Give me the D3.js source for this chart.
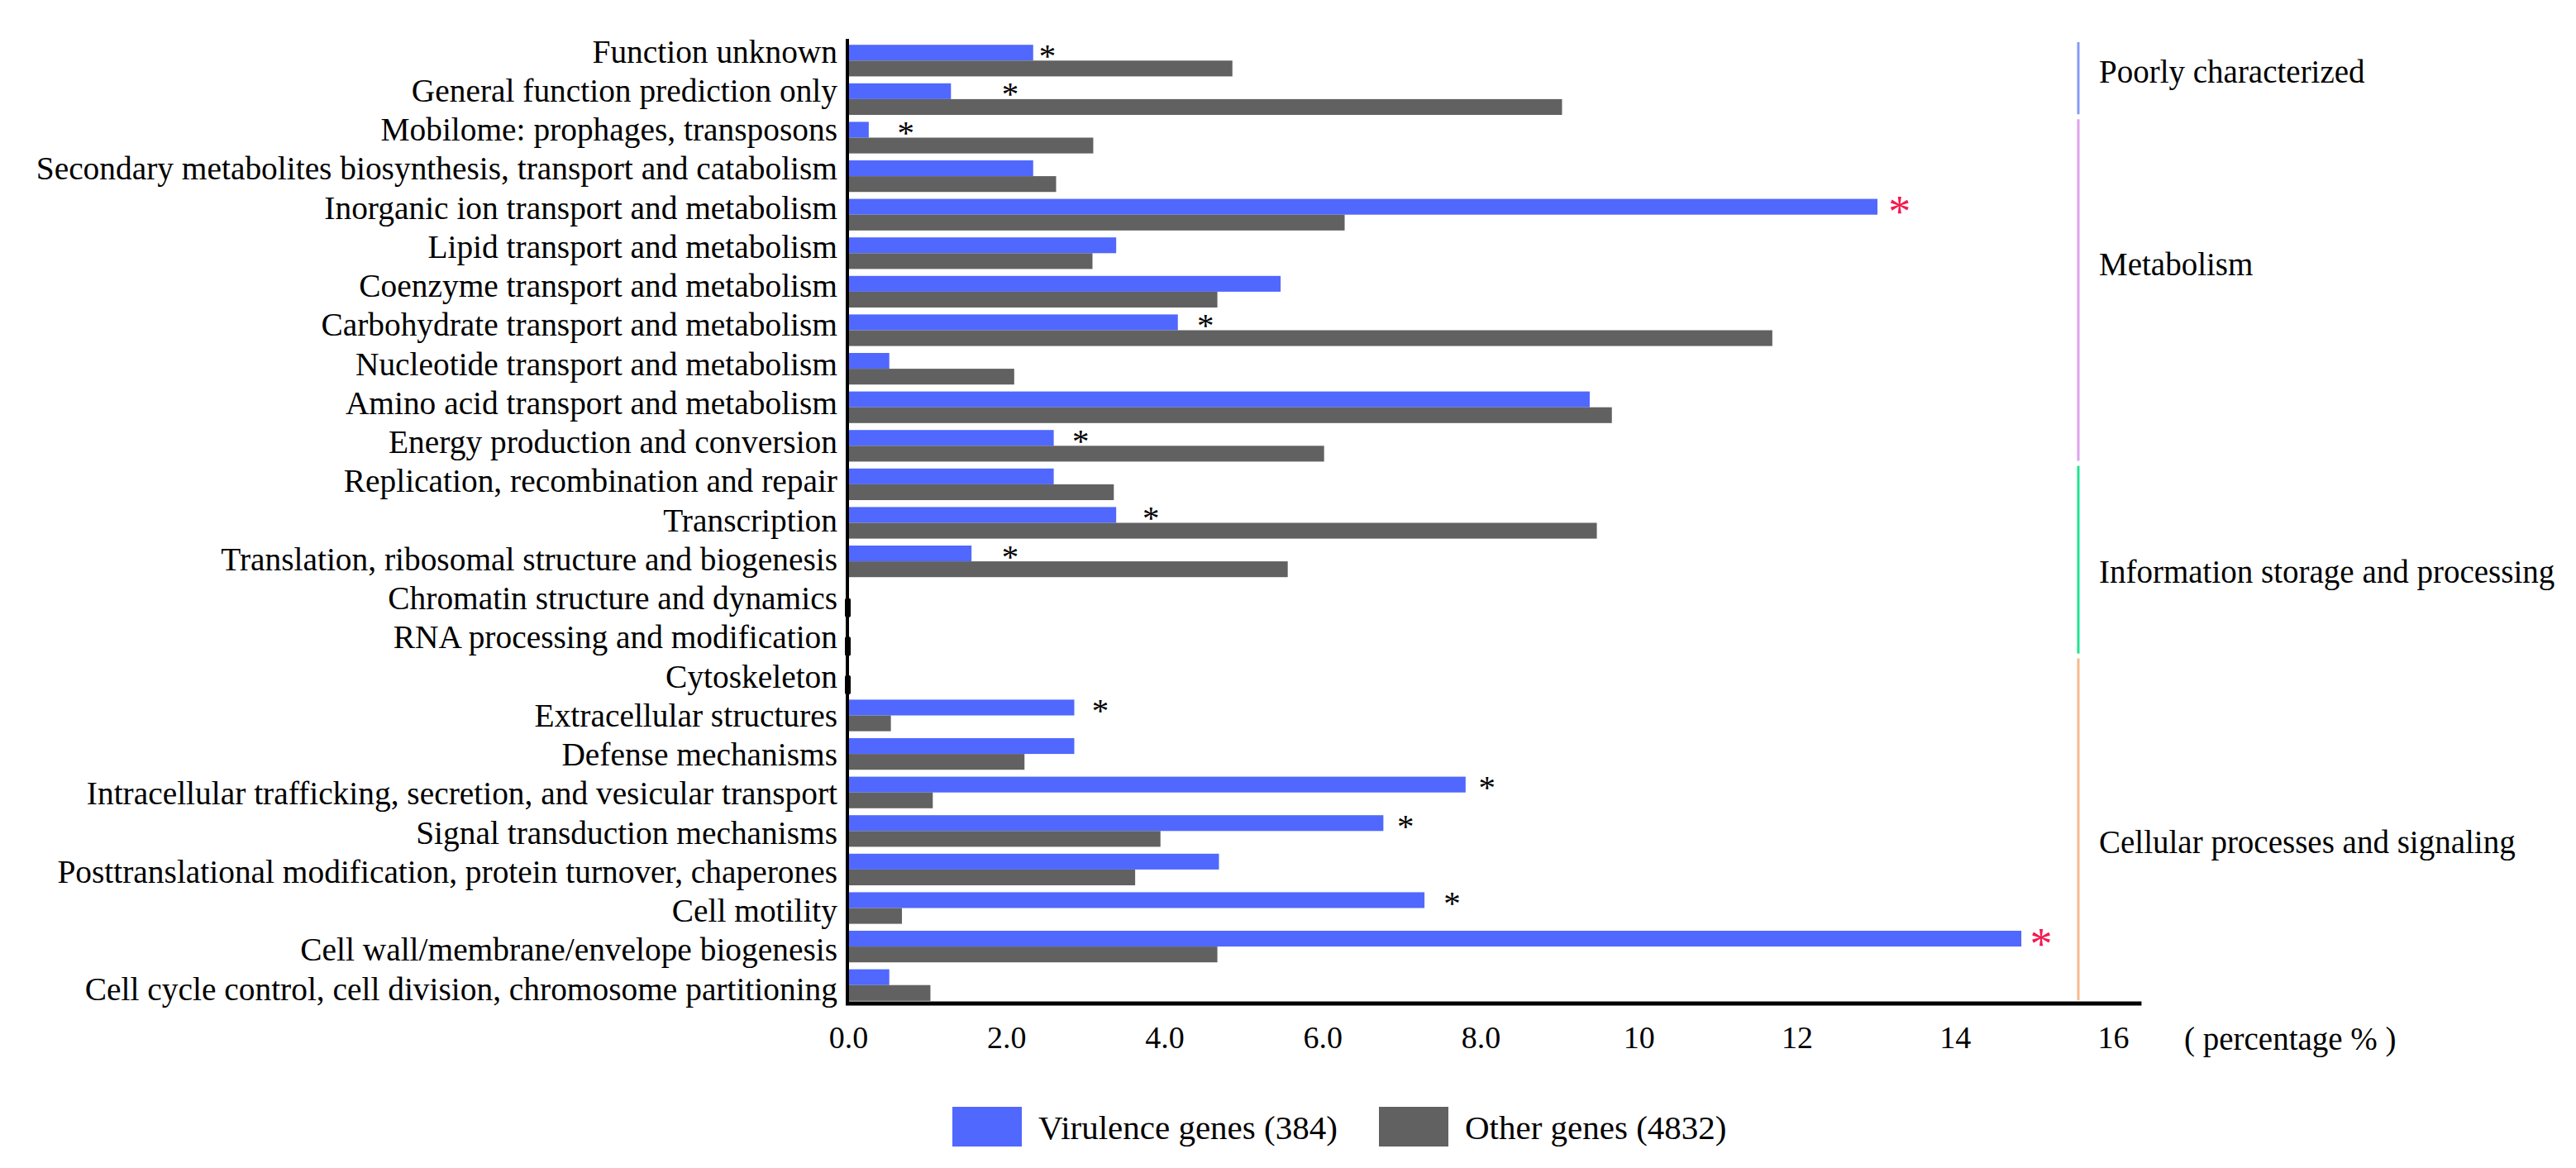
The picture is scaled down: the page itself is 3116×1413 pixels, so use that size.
<!DOCTYPE html>
<html>
<head>
<meta charset="utf-8">
<script src="https://cdn.jsdelivr.net/npm/d3@7"></script>
<style>
  body { margin: 0; background: #fff; }
  #chart, #chart text { font-family: "Liberation Serif", Tinos, "Times New Roman", Times, "DejaVu Serif", serif; }
  #chart text { fill: #000; }
</style>
</head>
<body>
<svg id="chart" width="3116" height="1413" font-family="Liberation Serif"></svg>
<script>
// COG categories, top to bottom
var categories = [
  "Function unknown",
  "General function prediction only",
  "Mobilome: prophages, transposons",
  "Secondary metabolites biosynthesis, transport and catabolism",
  "Inorganic ion transport and metabolism",
  "Lipid transport and metabolism",
  "Coenzyme transport and metabolism",
  "Carbohydrate transport and metabolism",
  "Nucleotide transport and metabolism",
  "Amino acid transport and metabolism",
  "Energy production and conversion",
  "Replication, recombination and repair",
  "Transcription",
  "Translation, ribosomal structure and biogenesis",
  "Chromatin structure and dynamics",
  "RNA processing and modification",
  "Cytoskeleton",
  "Extracellular structures",
  "Defense mechanisms",
  "Intracellular trafficking, secretion, and vesicular transport",
  "Signal transduction mechanisms",
  "Posttranslational modification, protein turnover, chaperones",
  "Cell motility",
  "Cell wall/membrane/envelope biogenesis",
  "Cell cycle control, cell division, chromosome partitioning"
];

// percentages
var virulence = [2.34, 1.30, 0.26, 2.34, 13.02, 3.39, 5.47, 4.17, 0.52, 9.38, 2.60, 2.60, 3.39, 1.56,
                 0, 0, 0, 2.86, 2.86, 7.81, 6.77, 4.69, 7.29, 14.84, 0.52];
var others    = [4.86, 9.03, 3.10, 2.63, 6.28, 3.09, 4.67, 11.69, 2.10, 9.66, 6.02, 3.36, 9.47, 5.56,
                 0, 0, 0, 0.54, 2.23, 1.07, 3.95, 3.63, 0.68, 4.67, 1.04];

// significance: 0 none, 1 black star, 2 red star; starAt = where the star sits (in %)
var sigLevel = [1, 1, 1, 0, 2, 0, 0, 1, 0, 0, 1, 0, 1, 1, 0, 0, 0, 1, 0, 1, 1, 0, 1, 2, 0];
var starAt   = [2.52, 2.05, 0.73, null, 13.30, null, null, 4.52, null, null, 2.94, null, 3.83, 2.05,
                null, null, null, 3.19, null, 8.08, 7.05, null, 7.64, 15.09, null];

var tickValues = [0, 2, 4, 6, 8, 10, 12, 14, 16];
var tickLabels = ["0.0", "2.0", "4.0", "6.0", "8.0", "10", "12", "14", "16"];

var groupNames = ["Poorly characterized", "Metabolism", "Information storage and processing", "Cellular processes and signaling"];
var groupFirst = [0, 2, 11, 16];
var groupLast  = [1, 10, 15, 24];
var groupLabelRow = [1, 6, 14, 21];
var groupColors = ["#889bf4", "#e0a2ee", "#1ee48f", "#f7b98a"];

var seriesNames = ["Virulence genes (384)", "Other genes (4832)"];
var seriesColors = ["#5068fe", "#616161"];

var serif = "'Liberation Serif', Tinos, 'Times New Roman', Times, 'DejaVu Serif', serif";

var svg = d3.select("#chart");

var x = d3.scaleLinear().domain([0, 16]).range([1026, 2556]);
var y = d3.scaleBand().domain(d3.range(categories.length)).range([50, 1215])
    .paddingInner(0.18).paddingOuter(0.09);
var sub = d3.scaleBand().domain([0, 1]).range([0, y.bandwidth()]);
// labels sit on a slightly different pitch than the bars in the original
var labelY = d3.scalePoint().domain(d3.range(categories.length)).range([75, 1209]);

function stepStart(i) { return y(i) - y.step() * 0.09; }

var rows = categories.map(function(c, i) {
    return { i: i, name: c, v: virulence[i], o: others[i], sig: sigLevel[i], star: starAt[i] };
});

// bars
var g = svg.append("g");
g.selectAll("rect.vir")
    .data(rows).enter().append("rect")
    .attr("class", "vir")
    .attr("x", x(0))
    .attr("y", d => y(d.i) + sub(0))
    .attr("width", d => x(d.v) - x(0))
    .attr("height", sub.bandwidth())
    .attr("fill", seriesColors[0]);

g.selectAll("rect.oth")
    .data(rows).enter().append("rect")
    .attr("class", "oth")
    .attr("x", x(0))
    .attr("y", d => y(d.i) + sub(1))
    .attr("width", d => x(d.o) - x(0))
    .attr("height", sub.bandwidth())
    .attr("fill", seriesColors[1]);

// empty categories show as a small black stub on the axis
g.selectAll("rect.zero")
    .data(rows.filter(d => d.v === 0 && d.o === 0)).enter().append("rect")
    .attr("x", x(0) - 4)
    .attr("y", d => y(d.i) + sub(1) - 2)
    .attr("width", 7)
    .attr("height", sub.bandwidth() + 4)
    .attr("rx", 2)
    .attr("fill", "#000");

// stars
g.selectAll("text.star")
    .data(rows.filter(d => d.sig > 0)).enter().append("text")
    .attr("x", d => x(d.star))
    .attr("y", d => y(d.i) + sub.bandwidth() / 2 + (d.sig === 2 ? 24 : 17))
    .attr("text-anchor", "middle")
    .style("font-family", serif)
    .style("font-size", d => d.sig === 2 ? "54px" : "41px")
    .style("fill", d => d.sig === 2 ? "#f5174d" : "#000")
    .text("*");

// axes
var xAxis = d3.axisBottom(x).tickValues(tickValues)
    .tickFormat((d, i) => tickLabels[i]).tickSize(0).tickPadding(27);
svg.append("g").attr("transform", "translate(0,1214)").call(xAxis)
    .attr("font-family", null)
    .call(a => a.select(".domain").remove())
    .selectAll("text").style("font-size", "38px").style("font-family", serif);

svg.append("text").attr("x", 2642).attr("y", 1270)
    .style("font-family", serif)
    .style("font-size", "39px").text("( percentage % )");

var yAxis = d3.axisLeft(labelY).tickFormat(i => categories[i]).tickSize(0).tickPadding(13);
svg.append("g").attr("transform", "translate(" + x(0) + ",0)").call(yAxis)
    .attr("font-family", null)
    .call(a => a.select(".domain").remove())
    .selectAll("text").attr("dy", 0).style("font-size", "39.4px").style("font-family", serif);

svg.append("line").attr("x1", x(0) - 1).attr("x2", x(0) - 1).attr("y1", 47).attr("y2", 1216)
    .attr("stroke", "#000").attr("stroke-width", 4);
svg.append("line").attr("x1", x(0) - 3).attr("x2", x(16.36)).attr("y1", 1214).attr("y2", 1214)
    .attr("stroke", "#000").attr("stroke-width", 5);

// category group brackets on the right
var gx = 2514;
groupNames.forEach(function(name, k) {
    svg.append("line")
        .attr("x1", gx).attr("x2", gx)
        .attr("y1", stepStart(groupFirst[k]) + 1)
        .attr("y2", stepStart(groupLast[k]) + y.step() - 5)
        .attr("stroke", groupColors[k]).attr("stroke-width", 3);
    svg.append("text")
        .attr("x", 2539)
        .attr("y", stepStart(groupLabelRow[k]) + 3)
        .style("font-family", serif)
        .style("font-size", "39px")
        .text(name);
});

// legend
var legX = [1152, 1668];
seriesNames.forEach(function(name, k) {
    svg.append("rect").attr("x", legX[k]).attr("y", 1339)
        .attr("width", 84).attr("height", 48).attr("fill", seriesColors[k]);
    svg.append("text").attr("x", legX[k] + 104).attr("y", 1378)
        .style("font-family", serif)
        .style("font-size", "41px").text(name);
});
</script>
</body>
</html>
